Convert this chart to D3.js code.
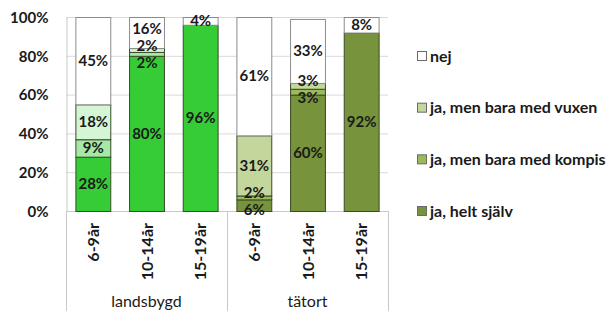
<!DOCTYPE html>
<html>
<head>
<meta charset="utf-8">
<script src="https://cdn.jsdelivr.net/npm/d3@7"></script>
<style>
	body { margin: 0; background: #fff; }
	text { font-family: Lato, "Open Sans", sans-serif; fill: #1a1a1a; }
	.lbl { font-weight: bold; font-size: 15px; }
</style>
</head>
<body>
<div id="viz"></div>
<script>
var groups = ["landsbygd", "tätort"];
var ages = ["6-9år", "10-14år", "15-19år"];
var series = ["ja, helt själv", "ja, men bara med kompis", "ja, men bara med vuxen", "nej"];

// values per bar: landsbygd 6-9, 10-14, 15-19, tätort 6-9, 10-14, 15-19
var heltSjalv = [28, 80, 96, 6, 60, 92];
var kompis = [9, 2, 0, 2, 3, 0];
var vuxen = [18, 2, 0, 31, 3, 0];
var nej = [45, 16, 4, 61, 33, 8];

var yTicks = [0, 20, 40, 60, 80, 100];

var groupColors = {
	"landsbygd": ["#36cc36", "#a6e8a6", "#d4f6d4", "#ffffff"],
	"tätort": ["#77933c", "#9bbb59", "#c3d69b", "#ffffff"]
};
var legendColors = ["#77933c", "#9bbb59", "#c3d69b", "#ffffff"];

buildViz();

function buildViz(){
	var width = 614,
		height = 311,
		left = 66,
		right = 388,
		top = 17,
		bottom = 211;

	var svg = d3.select('#viz').append('svg')
		.attr('width', width)
		.attr('height', height);

	var rows = [];
	groups.forEach(function(g, gi){
		ages.forEach(function(a, ai){
			var i = gi * ages.length + ai;
			rows.push({ key: g + "|" + a, group: g, age: a,
				values: [heltSjalv[i], kompis[i], vuxen[i], nej[i]] });
		});
	});

	var x = d3.scaleBand()
		.domain(rows.map(function(d){ return d.key; }))
		.range([left, right])
		.paddingInner(0.35)
		.paddingOuter(0.175);

	var y = d3.scaleLinear().domain([0, 100]).range([bottom, top]);

	// gridlines
	svg.append('g').selectAll('line')
		.data(yTicks.filter(function(t){ return t > 0; }))
		.enter().append('line')
			.attr('x1', left).attr('x2', right)
			.attr('y1', function(d){ return y(d) + 0.5; })
			.attr('y2', function(d){ return y(d) + 0.5; })
			.style('stroke', '#d9d9d9');

	// y axis
	var yAxis = svg.append('g')
		.attr('transform', 'translate(' + (left + 0.5) + ',0)')
		.call(d3.axisLeft(y).tickValues(yTicks).tickSize(0).tickPadding(18)
			.tickFormat(function(d){ return d + '%'; }));
	yAxis.select('.domain').style('stroke', '#c8c8c8');
	yAxis.selectAll('text').attr('class', 'lbl').style('font-size', '15px').attr('dy', '0.35em');

	// category axis frame
	var step = x.step();
	var frame = svg.append('g').style('stroke', '#c8c8c8');
	frame.append('line').attr('x1', left).attr('x2', right)
		.attr('y1', bottom + 0.5).attr('y2', bottom + 0.5);
	[left, left + step * ages.length, right].forEach(function(xx){
		frame.append('line').attr('x1', xx + 0.5).attr('x2', xx + 0.5)
			.attr('y1', bottom).attr('y2', height);
	});

	// stacked bars
	var bars = svg.selectAll('.bar')
		.data(rows)
		.enter().append('g')
			.attr('class', 'bar')
			.attr('transform', function(d){ return 'translate(' + x(d.key) + ',0)'; });

	bars.each(function(d){
		var g = d3.select(this);
		var segs = [], acc = 0;
		d.values.forEach(function(v, si){
			segs.push({ v: v, si: si, y0: acc, y1: acc + v });
			acc += v;
		});
		g.selectAll('rect')
			.data(segs.filter(function(s){ return s.v > 0; }))
			.enter().append('rect')
				.attr('x', 0.5)
				.attr('width', x.bandwidth())
				.attr('y', function(s){ return y(s.y1) + 0.5; })
				.attr('height', function(s){ return y(s.y0) - y(s.y1); })
				.style('fill', function(s){ return groupColors[d.group][s.si]; })
				.style('stroke', function(s){ return s.si == 3 ? '#8c8c8c' : '#3a4a2a'; })
				.style('stroke-width', 1);

		// labels, spread apart where segments are thin
		var labels = segs.filter(function(s){ return s.v > 0; }).map(function(s){
			return { s: s, pos: y((s.y0 + s.y1) / 2) };
		});
		var gap = 17;
		for (var it = 0; it < 40; it++){
			for (var k = 0; k < labels.length - 1; k++){
				var lo = labels[k], hi = labels[k + 1];
				var over = gap - (lo.pos - hi.pos);
				if (over > 0){ lo.pos += over / 2; hi.pos -= over / 2; }
			}
		}
		g.selectAll('text')
			.data(labels)
			.enter().append('text')
				.attr('class', 'lbl')
				.style('font-size', '15px')
				.attr('x', x.bandwidth() / 2 + 0.5)
				.attr('y', function(l){ return l.pos; })
				.attr('dy', '0.35em')
				.attr('text-anchor', 'middle')
				.text(function(l){ return l.s.v + '%'; });
	});

	// age labels (rotated)
	svg.selectAll('.age')
		.data(rows)
		.enter().append('text')
			.attr('class', 'lbl age')
			.style('font-size', '16px')
			.attr('text-anchor', 'end')
			.attr('transform', function(d){ return 'translate(' + (x(d.key) + x.bandwidth() / 2 + 6) + ',' + (bottom + 12) + ') rotate(-90)'; })
			.text(function(d){ return d.age; });

	// group labels
	svg.selectAll('.grp')
		.data(groups)
		.enter().append('text')
			.attr('class', 'grp')
			.style('font-size', '16px')
			.attr('text-anchor', 'middle')
			.attr('x', function(d, i){ return left + step * ages.length * (i + 0.5); })
			.attr('y', 307)
			.text(function(d){ return d; });

	// legend (top to bottom: nej, vuxen, kompis, helt själv)
	var legendOrder = [3, 2, 1, 0];
	var legendY = d3.scalePoint().domain(legendOrder).range([56, 211]);
	var legend = svg.append('g').attr('transform', 'translate(417,0)');
	legend.selectAll('rect')
		.data(legendOrder)
		.enter().append('rect')
			.attr('x', 0.5)
			.attr('y', function(d){ return legendY(d) - 4.5; })
			.attr('width', 9).attr('height', 9)
			.style('fill', function(d){ return legendColors[d]; })
			.style('stroke', '#6a6a6a');
	legend.selectAll('text')
		.data(legendOrder)
		.enter().append('text')
			.attr('class', 'lbl')
			.style('font-size', '16px')
			.attr('x', 13)
			.attr('y', function(d){ return legendY(d); })
			.attr('dy', '0.35em')
			.text(function(d){ return series[d]; });
}
</script>
</body>
</html>
